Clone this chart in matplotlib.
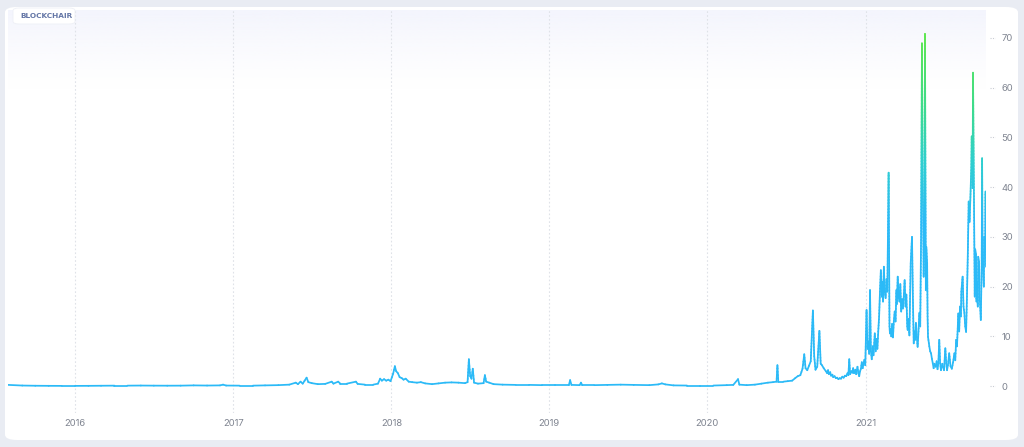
import numpy as np
import matplotlib
matplotlib.use("Agg")
import matplotlib.pyplot as plt
import matplotlib.dates as mdates
from matplotlib.collections import LineCollection
from matplotlib.colors import LinearSegmentedColormap, Normalize
from matplotlib.patches import FancyBboxPatch
import matplotlib.transforms as mtransforms

# average fee, USD
# quiet years 2015 - mid 2020
dates_early = [
    "2015-07-30", "2015-09-01", "2015-10-01", "2015-11-01", "2015-12-01",
    "2016-01-01", "2016-02-01", "2016-03-01", "2016-04-01", "2016-05-01",
    "2016-06-01", "2016-07-01", "2016-08-01", "2016-09-01", "2016-10-01",
    "2016-11-01", "2016-12-01", "2016-12-08", "2016-12-15", "2017-01-15",
    "2017-02-15", "2017-03-15", "2017-04-15", "2017-05-10", "2017-05-25",
    "2017-05-30", "2017-06-05", "2017-06-10", "2017-06-19", "2017-06-23",
    "2017-07-01", "2017-07-15", "2017-08-01", "2017-08-16", "2017-08-20",
    "2017-08-31", "2017-09-05", "2017-09-20", "2017-10-11", "2017-10-15",
    "2017-11-01", "2017-11-20", "2017-12-01", "2017-12-06", "2017-12-10",
    "2017-12-15", "2017-12-20", "2017-12-25", "2017-12-30", "2018-01-05",
    "2018-01-09", "2018-01-12", "2018-01-16", "2018-01-20", "2018-01-25",
    "2018-01-29", "2018-02-03", "2018-02-10", "2018-02-18", "2018-03-01",
    "2018-03-10", "2018-03-20", "2018-04-05", "2018-04-20", "2018-05-05",
    "2018-05-20", "2018-06-05", "2018-06-20", "2018-06-26", "2018-06-29",
    "2018-07-02", "2018-07-05", "2018-07-08", "2018-07-11", "2018-07-20",
    "2018-08-02", "2018-08-05", "2018-08-08", "2018-08-15", "2018-08-25",
    "2018-09-15", "2018-10-15", "2018-11-15", "2018-12-15", "2019-01-15",
    "2019-02-15", "2019-02-18", "2019-02-21", "2019-03-12", "2019-03-15",
    "2019-03-18", "2019-04-15", "2019-05-15", "2019-06-15", "2019-07-15",
    "2019-08-20", "2019-09-10", "2019-09-18", "2019-09-26", "2019-10-15",
    "2019-11-15", "2019-12-15", "2020-01-15", "2020-02-15", "2020-03-01",
    "2020-03-12", "2020-03-15", "2020-04-01", "2020-04-20", "2020-05-05",
    "2020-05-20", "2020-06-01", "2020-06-09", "2020-06-11", "2020-06-13",
    "2020-06-25", "2020-07-05", "2020-07-15", "2020-07-22", "2020-07-28",
]
fees_early = [
    0.25, 0.12, 0.08, 0.06, 0.05,
    0.05, 0.06, 0.08, 0.10, 0.10,
    0.12, 0.10, 0.09, 0.10, 0.15,
    0.12, 0.15, 0.30, 0.12, 0.10,
    0.10, 0.15, 0.20, 0.30, 0.70,
    0.40, 0.90, 0.50, 1.70, 0.80,
    0.60, 0.40, 0.45, 0.90, 0.50,
    0.90, 0.50, 0.50, 0.90, 0.45,
    0.30, 0.30, 0.50, 1.50, 1.10,
    1.40, 1.10, 1.30, 1.00, 2.50,
    4.00, 3.00, 2.60, 1.80, 1.60,
    1.30, 1.50, 0.90, 0.80, 0.70,
    0.80, 0.55, 0.40, 0.55, 0.70,
    0.75, 0.70, 0.60, 0.80, 5.40,
    2.00, 1.50, 3.50, 0.70, 0.50,
    0.60, 2.20, 0.90, 0.70, 0.40,
    0.30, 0.25, 0.25, 0.20, 0.20,
    0.20, 1.20, 0.25, 0.20, 0.70,
    0.20, 0.20, 0.25, 0.30, 0.25,
    0.20, 0.35, 0.55, 0.35, 0.15,
    0.12, 0.12, 0.12, 0.20, 0.25,
    1.40, 0.30, 0.20, 0.30, 0.50,
    0.70, 0.80, 0.90, 4.20, 0.90,
    0.90, 1.00, 1.10, 1.60, 2.00,
]
# August 2020 - end of data
dates_late = [
    "2020-08-03", "2020-08-08", "2020-08-12", "2020-08-15", "2020-08-19",
    "2020-08-23", "2020-08-27", "2020-09-01", "2020-09-04", "2020-09-07",
    "2020-09-11", "2020-09-16", "2020-09-19", "2020-09-22", "2020-09-26",
    "2020-10-01", "2020-10-04", "2020-10-06", "2020-10-08", "2020-10-11",
    "2020-10-13", "2020-10-16", "2020-10-18", "2020-10-21", "2020-10-24",
    "2020-10-27", "2020-10-30", "2020-11-02", "2020-11-05", "2020-11-08",
    "2020-11-11", "2020-11-14", "2020-11-17", "2020-11-20", "2020-11-22",
    "2020-11-24", "2020-11-26", "2020-11-29", "2020-12-01", "2020-12-03",
    "2020-12-05", "2020-12-08", "2020-12-10", "2020-12-13", "2020-12-15",
    "2020-12-17", "2020-12-19", "2020-12-21", "2020-12-23", "2020-12-25",
    "2020-12-27", "2020-12-29", "2020-12-31", "2021-01-03", "2021-01-05",
    "2021-01-07", "2021-01-09", "2021-01-11", "2021-01-13", "2021-01-15",
    "2021-01-17", "2021-01-19", "2021-01-22", "2021-01-24", "2021-01-26",
    "2021-01-28", "2021-01-30", "2021-02-01", "2021-02-03", "2021-02-05",
    "2021-02-07", "2021-02-08", "2021-02-10", "2021-02-12", "2021-02-14",
    "2021-02-16", "2021-02-18", "2021-02-20", "2021-02-23", "2021-02-25",
    "2021-02-26", "2021-02-28", "2021-03-01", "2021-03-03", "2021-03-05",
    "2021-03-07", "2021-03-09", "2021-03-11", "2021-03-13", "2021-03-14",
    "2021-03-16", "2021-03-18", "2021-03-20", "2021-03-22", "2021-03-24",
    "2021-03-26", "2021-03-28", "2021-03-30", "2021-04-01", "2021-04-03",
    "2021-04-05", "2021-04-07", "2021-04-08", "2021-04-10", "2021-04-12",
    "2021-04-14", "2021-04-15", "2021-04-18", "2021-04-20", "2021-04-22",
    "2021-04-24", "2021-04-25", "2021-04-27", "2021-04-29", "2021-05-01",
    "2021-05-03", "2021-05-05", "2021-05-07", "2021-05-09", "2021-05-11",
    "2021-05-13", "2021-05-15", "2021-05-17", "2021-05-18", "2021-05-20",
    "2021-05-21", "2021-05-23", "2021-05-24", "2021-05-25", "2021-05-28",
    "2021-05-30", "2021-06-01", "2021-06-03", "2021-06-05", "2021-06-07",
    "2021-06-09", "2021-06-12", "2021-06-14", "2021-06-16", "2021-06-18",
    "2021-06-20", "2021-06-22", "2021-06-24", "2021-06-27", "2021-06-29",
    "2021-07-01", "2021-07-04", "2021-07-06", "2021-07-08", "2021-07-10",
    "2021-07-13", "2021-07-16", "2021-07-19", "2021-07-22", "2021-07-25",
    "2021-07-27", "2021-07-29", "2021-07-31", "2021-08-03", "2021-08-05",
    "2021-08-07", "2021-08-09", "2021-08-10", "2021-08-13", "2021-08-15",
    "2021-08-17", "2021-08-19", "2021-08-21", "2021-08-23", "2021-08-25",
    "2021-08-27", "2021-08-29", "2021-08-31", "2021-09-02", "2021-09-03",
    "2021-09-05", "2021-09-06", "2021-09-08", "2021-09-10", "2021-09-11",
    "2021-09-13", "2021-09-14", "2021-09-15", "2021-09-17", "2021-09-18",
    "2021-09-20", "2021-09-21", "2021-09-22", "2021-09-24", "2021-09-26",
    "2021-09-27", "2021-09-28", "2021-09-29", "2021-10-01", "2021-10-02",
    "2021-10-04", "2021-10-05", "2021-10-06",
]
fees_late = [
    2.20, 3.50, 6.40, 3.60, 3.20,
    4.10, 5.00, 15.2, 6.00, 3.30,
    3.90, 11.1, 4.50, 4.20, 3.60,
    3.00, 2.60, 3.20, 2.40, 2.80,
    2.10, 2.30, 1.80, 2.00, 1.60,
    1.70, 1.40, 1.60, 1.50, 1.90,
    1.70, 2.10, 2.00, 2.60, 2.20,
    5.40, 2.40, 3.00, 2.70, 3.60,
    2.60, 3.30, 2.40, 3.90, 2.60,
    2.00, 3.00, 3.50, 4.80, 3.60,
    4.60, 5.30, 4.20, 15.3, 7.50,
    9.00, 6.50, 19.3, 7.00, 5.40,
    8.00, 6.20, 10.6, 7.00, 9.50,
    7.50, 11.0, 14.0, 19.0, 23.3,
    18.0, 21.0, 17.0, 24.0, 19.0,
    17.7, 21.5, 19.0, 42.9, 12.0,
    10.6, 11.5, 10.0, 12.5, 9.80,
    13.0, 15.0, 13.0, 19.3, 16.5,
    22.0, 18.0, 17.0, 20.5, 15.0,
    17.5, 15.6, 18.0, 21.3, 16.0,
    18.4, 12.0, 11.3, 13.5, 10.2,
    20.0, 24.7, 30.0, 18.0, 8.60,
    11.0, 9.30, 12.7, 10.0, 7.90,
    11.0, 14.7, 12.0, 30.0, 68.9,
    40.0, 22.0, 35.0, 70.8, 19.3,
    28.0, 24.7, 14.0, 9.90, 8.00,
    7.00, 6.60, 5.50, 4.60, 3.60,
    4.50, 3.90, 5.00, 3.40, 4.80,
    9.30, 4.60, 3.20, 4.50, 3.80,
    3.20, 7.60, 4.60, 3.20, 4.20,
    6.60, 4.00, 3.50, 4.80, 6.60,
    5.20, 9.30, 8.00, 14.6, 11.0,
    16.0, 14.0, 19.0, 22.0, 16.0,
    14.7, 12.0, 10.9, 18.0, 26.7,
    37.1, 33.0, 38.0, 44.0, 50.2,
    39.8, 63.0, 40.0, 18.0, 27.5,
    26.5, 17.0, 21.0, 16.0, 26.0,
    25.0, 18.0, 17.0, 13.3, 24.0,
    45.8, 30.0, 23.3, 20.0, 30.0,
    27.6, 39.1, 24.0,
]
dates = dates_early + dates_late
fees = fees_early + fees_late
year_ticks = ["2016", "2017", "2018", "2019", "2020", "2021"]
y_ticks = [0, 10, 20, 30, 40, 50, 60, 70]

W, H = 1024, 447
fig = plt.figure(figsize=(W / 100, H / 100), dpi=100)
fig.patch.set_facecolor("#e9ecf3")

# white card behind everything
card = FancyBboxPatch((5 / W, 7 / H), 1013 / W, 433 / H,
                      boxstyle="round,pad=0,rounding_size=0.012",
                      transform=fig.transFigure, facecolor="white",
                      edgecolor="none", zorder=-10)
fig.patches.append(card)

ax = fig.add_axes([8 / W, 34 / H, 978 / W, 403 / H])
ax.set_zorder(1)
ax.set_facecolor("none")
for s in ax.spines.values():
    s.set_visible(False)

x = mdates.date2num(np.array(dates, dtype="datetime64[D]"))
y = np.array(fees)

# split long segments so the colour can follow the height
blue, green = "#2bbaf7", "#62e84a"
cmap = LinearSegmentedColormap.from_list(
    "fee", [(0, blue), (33 / 72, blue), (45 / 72, "#2fcfd0"),
            (56 / 72, "#3ddb8c"), (1, green)])
norm = Normalize(0, 72)
segs, vals = [], []
for i in range(len(x) - 1):
    n = max(1, int(abs(y[i + 1] - y[i]) / 0.6))
    t = np.linspace(0, 1, n + 1)
    xs = x[i] + (x[i + 1] - x[i]) * t
    ys = y[i] + (y[i + 1] - y[i]) * t
    for j in range(n):
        segs.append([(xs[j], ys[j]), (xs[j + 1], ys[j + 1])])
        vals.append((ys[j] + ys[j + 1]) / 2)
lc = LineCollection(segs, colors=cmap(norm(np.array(vals))), linewidths=1.25,
                    capstyle="round", joinstyle="round", zorder=3)
ax.add_collection(lc)

ax.set_xlim(mdates.date2num(np.datetime64("2015-07-30")),
            mdates.date2num(np.datetime64("2021-10-06")))
ax.set_ylim(-5.4, 75.6)

# soft tint at the top of the plot
grad = np.zeros((100, 2, 4))
grad[..., 0] = 244 / 255
grad[..., 1] = 245 / 255
grad[..., 2] = 253 / 255
grad[..., 3] = np.linspace(1, 0, 100)[:, None] ** 1.3
ax.imshow(grad, extent=(0, 1, 0.80, 1.0), transform=ax.transAxes,
          aspect="auto", zorder=0)

xt = [mdates.date2num(np.datetime64(f"{yr}-01-01")) for yr in year_ticks]
ax.set_xticks(xt)
ax.set_xticklabels(year_ticks)
for v in xt:
    ax.axvline(v, color="#dfe2e8", lw=0.8, ls=(0, (1.5, 2)), zorder=1)
ax.tick_params(axis="x", length=0, pad=4, labelsize=6.8, colors="#7f8490")

ax.yaxis.tick_right()
ax.set_yticks(y_ticks)
ax.set_yticklabels([str(v) for v in y_ticks])
ax.tick_params(axis="y", length=0, pad=11, labelsize=6.8, colors="#7f8490")
for lab in ax.get_yticklabels():
    lab.set_horizontalalignment("left")
trans = mtransforms.blended_transform_factory(ax.transAxes, ax.transData)
for v in y_ticks:
    ax.plot([1.0045, 1.0095], [v, v], color="#c9ccd4", lw=0.8,
            ls=(0, (1, 1.2)), transform=trans, clip_on=False)

for lab in ax.get_xticklabels() + ax.get_yticklabels():
    lab.set_family("Inter")

# BLOCKCHAIR badge
badge = FancyBboxPatch((13 / W, (H - 24) / H), 62 / W, 16 / H,
                       boxstyle="round,pad=0,rounding_size=0.006",
                       transform=fig.transFigure, facecolor="white",
                       edgecolor="#eef0f6", lw=0.6, zorder=5)
fig.patches.append(badge)
fig.text(20 / W, (H - 16) / H, "BLOCKCHAIR", fontsize=5.3, fontweight="bold",
         color="#6476a6", va="center", ha="left", family="DejaVu Sans",
         zorder=6)

fig.savefig("out.png", dpi=100, facecolor=fig.get_facecolor())
